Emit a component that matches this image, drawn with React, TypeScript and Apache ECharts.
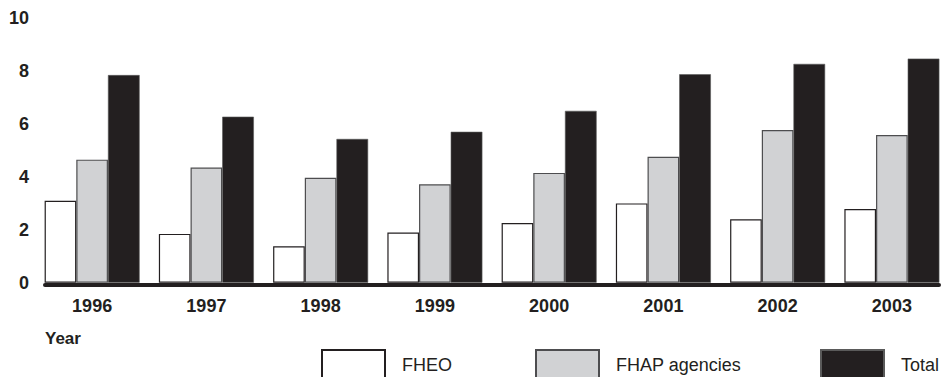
import React, { useEffect, useRef } from "react";
import * as echarts from "echarts";

const categories = ["1996", "1997", "1998", "1999", "2000", "2001", "2002", "2003"];
const fheo = [3.09, 1.84, 1.37, 1.89, 2.25, 2.99, 2.39, 2.78];
const fhap = [4.64, 4.34, 3.96, 3.71, 4.14, 4.75, 5.76, 5.57];
const total = [7.83, 6.26, 5.42, 5.69, 6.48, 7.86, 8.25, 8.45];
const yTicks = { min: 0, max: 10, interval: 2 };

const INK = "#231f20";
const GRAY = "#d1d2d4";

export default function App() {
  const ref = useRef<HTMLDivElement>(null);
  useEffect(() => {
    document.body.style.margin = "0";
    if (!ref.current) return;
    const chart = echarts.init(ref.current, null, { renderer: "svg" });
    const legendBase = (name: string, left: number) => ({
      data: [name],
      left,
      top: 349,
      padding: 0,
      orient: "horizontal" as const,
      icon: "rect",
      itemWidth: 63,
      itemHeight: 30,
      selectedMode: false,
      textStyle: {
        fontFamily: "Liberation Sans, Arial, sans-serif",
        fontSize: 18,
        color: INK,
        padding: [0, 0, 0, 12],
      },
    });
    chart.setOption({
      animation: false,
      backgroundColor: "#ffffff",
      title: {
        text: "Year",
        left: 45,
        top: 330,
        padding: 0,
        textStyle: {
          fontFamily: "Liberation Sans, Arial, sans-serif",
          fontSize: 17,
          fontWeight: "bold",
          color: INK,
        },
      },
      legend: [
        legendBase("FHEO", 321),
        legendBase("FHAP agencies", 535),
        legendBase("Total", 820),
      ],
      grid: [
        { left: 35, right: 0, top: 17.5, bottom: 94.3 },
        { left: 45, right: 10, top: 17.5, bottom: 92.3 },
      ],
      xAxis: [
        {
          type: "category",
          gridIndex: 0,
          data: categories,
          axisLine: { show: false },
          axisTick: { show: false },
          axisLabel: {
            margin: 14,
            fontFamily: "Liberation Sans, Arial, sans-serif",
            fontSize: 18,
            fontWeight: "bold",
            color: INK,
          },
        },
        {
          type: "category",
          gridIndex: 1,
          data: [""],
          axisLine: { show: true, lineStyle: { color: INK, width: 4 } },
          axisTick: { show: false },
          axisLabel: { show: false },
        },
      ],
      yAxis: [
        {
          type: "value",
          gridIndex: 0,
          min: yTicks.min,
          max: yTicks.max,
          interval: yTicks.interval,
          axisLine: { show: false },
          axisTick: { show: false },
          splitLine: { show: false },
          axisLabel: {
            margin: 6,
            fontFamily: "Liberation Sans, Arial, sans-serif",
            fontSize: 18,
            fontWeight: "bold",
            color: INK,
          },
        },
        {
          type: "value",
          gridIndex: 1,
          min: 0,
          max: 10,
          show: false,
        },
      ],
      series: [
        {
          name: "FHEO",
          type: "bar",
          xAxisIndex: 0,
          yAxisIndex: 0,
          data: fheo,
          barGap: "0%",
          barCategoryGap: "16.85%",
          itemStyle: { color: "#ffffff", borderColor: INK, borderWidth: 1.2 },
        },
        {
          name: "FHAP agencies",
          type: "bar",
          xAxisIndex: 0,
          yAxisIndex: 0,
          data: fhap,
          barGap: "0%",
          barCategoryGap: "16.85%",
          itemStyle: { color: GRAY, borderColor: "#4d4d4f", borderWidth: 1.2 },
        },
        {
          name: "Total",
          type: "bar",
          xAxisIndex: 0,
          yAxisIndex: 0,
          data: total,
          barGap: "0%",
          barCategoryGap: "16.85%",
          itemStyle: { color: INK, borderColor: "#5a5a5a", borderWidth: 0.6 },
        },
      ],
    });
    return () => chart.dispose();
  }, []);
  return <div ref={ref} style={{ width: 949, height: 377 }} />;
}
